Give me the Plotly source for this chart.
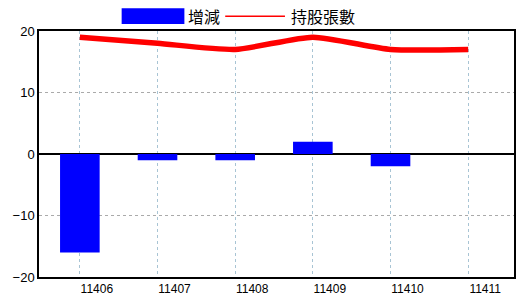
import plotly.graph_objects as go

categories = ["11406", "11407", "11408", "11409", "11410", "11411"]
change = [-16, -1, -1, 2, -2, 0]
holdings = [19, 18, 17, 19, 17, 17]
y_ticks = [-20, -10, 0, 10, 20]

fig = go.Figure()
fig.add_trace(go.Bar(x=list(range(len(categories))), y=change, name="增減",
                     marker=dict(color="#0000FF", line=dict(width=0)), width=0.51))
fig.add_trace(go.Scatter(x=list(range(len(categories))), y=holdings, name="持股張數",
                         mode="lines", line=dict(color="#FF0000", width=5.5, shape="spline", smoothing=0.6)))

font = "Noto Sans CJK TC, Liberation Sans, sans-serif"
fig.update_layout(
    width=520, height=300,
    margin=dict(l=39, r=4, t=31, b=20),
    paper_bgcolor="white", plot_bgcolor="white",
    showlegend=False,
    font=dict(family=font, size=12, color="black"),
    xaxis=dict(range=[-0.526, 5.59], tickmode="array",
               tickvals=list(range(len(categories))), ticktext=categories,
               showgrid=True, gridcolor="#A8C4D4", griddash="dot", gridwidth=1,
               ticks="", ticklabelshift=17, zeroline=False,
               showline=True, linecolor="black", linewidth=1.5, mirror=True,
               tickfont=dict(size=12, family="Liberation Sans, sans-serif")),
    yaxis=dict(range=[-20, 20], tickmode="array", tickvals=y_ticks,
               showgrid=True, gridcolor="#AAAAAA", griddash="dot", gridwidth=1,
               zeroline=True, zerolinecolor="black", zerolinewidth=1.5,
               ticks="", showline=True, linecolor="black", linewidth=1.5, mirror=True,
               tickfont=dict(size=13, family="Liberation Sans, sans-serif")),
    shapes=[
        dict(type="rect", xref="paper", yref="paper", x0=(122-39)/477, x1=(185-39)/477,
             y0=(280-24)/249, y1=(280-8)/249, fillcolor="#0000FF", line=dict(width=0)),
        dict(type="line", xref="paper", yref="paper", x0=(226-39)/477, x1=(286-39)/477,
             y0=(280-16)/249, y1=(280-16)/249, line=dict(color="#FF0000", width=1.5)),
    ],
    annotations=[
        dict(text="增減", xref="paper", yref="paper", x=(187-39)/477, y=(280-16)/249,
             xanchor="left", yanchor="middle", showarrow=False, font=dict(size=16, family=font)),
        dict(text="持股張數", xref="paper", yref="paper", x=(290-39)/477, y=(280-16)/249,
             xanchor="left", yanchor="middle", showarrow=False, font=dict(size=16, family=font)),
    ],
)
fig.write_html("out.html")
